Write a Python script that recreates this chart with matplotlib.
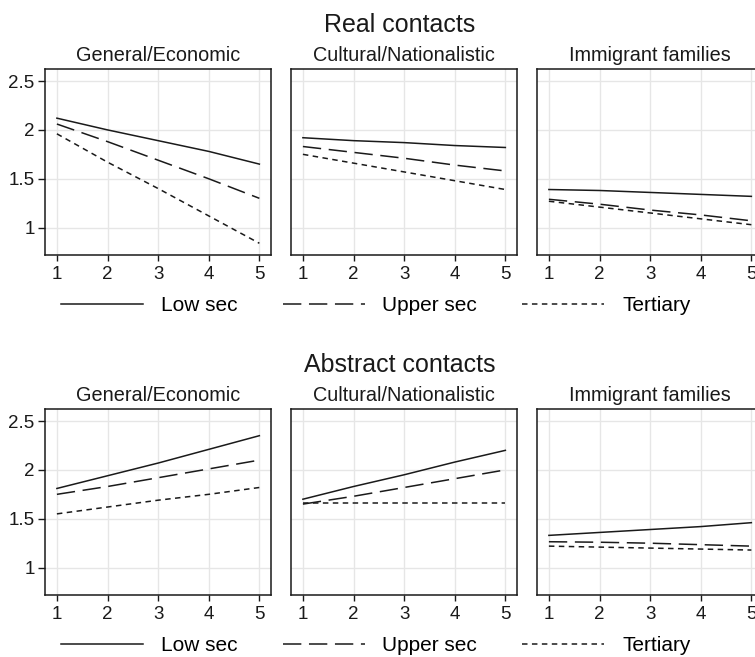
import matplotlib
matplotlib.use("Agg")
import matplotlib.pyplot as plt

plt.rcParams['font.family'] = ['Liberation Sans', 'DejaVu Sans']

x = [1, 2, 3, 4, 5]
panels = ['General/Economic', 'Cultural/Nationalistic', 'Immigrant families']
levels = ['Low sec', 'Upper sec', 'Tertiary']

# Real contacts
real_gen_low = [2.12, 2.00, 1.89, 1.78, 1.65]
real_gen_upper = [2.06, 1.88, 1.69, 1.50, 1.30]
real_gen_tert = [1.96, 1.67, 1.40, 1.12, 0.84]
real_cult_low = [1.92, 1.89, 1.87, 1.84, 1.82]
real_cult_upper = [1.83, 1.77, 1.71, 1.64, 1.58]
real_cult_tert = [1.75, 1.66, 1.57, 1.48, 1.39]
real_imm_low = [1.39, 1.38, 1.36, 1.34, 1.32]
real_imm_upper = [1.29, 1.24, 1.18, 1.13, 1.07]
real_imm_tert = [1.27, 1.21, 1.15, 1.09, 1.03]

# Abstract contacts
abs_gen_low = [1.81, 1.94, 2.07, 2.21, 2.35]
abs_gen_upper = [1.75, 1.83, 1.92, 2.01, 2.10]
abs_gen_tert = [1.55, 1.62, 1.69, 1.75, 1.82]
abs_cult_low = [1.70, 1.83, 1.95, 2.08, 2.20]
abs_cult_upper = [1.65, 1.73, 1.82, 1.91, 2.00]
abs_cult_tert = [1.66, 1.66, 1.66, 1.66, 1.66]
abs_imm_low = [1.33, 1.36, 1.39, 1.42, 1.46]
abs_imm_upper = [1.265, 1.26, 1.25, 1.235, 1.22]
abs_imm_tert = [1.22, 1.21, 1.20, 1.19, 1.18]

rows = [
    ('Real contacts', [
        [real_gen_low, real_gen_upper, real_gen_tert],
        [real_cult_low, real_cult_upper, real_cult_tert],
        [real_imm_low, real_imm_upper, real_imm_tert]]),
    ('Abstract contacts', [
        [abs_gen_low, abs_gen_upper, abs_gen_tert],
        [abs_cult_low, abs_cult_upper, abs_cult_tert],
        [abs_imm_low, abs_imm_upper, abs_imm_tert]]),
]

line_color = '#1a1a1a'
dash_styles = ['-', (0, (12, 5)), (0, (3.6, 2.9))]

W, H = 755, 657
fig = plt.figure(figsize=(W / 100, H / 100), dpi=100)
fig.patch.set_facecolor('white')

lefts = [45, 291, 537]
tops = [69.3, 409.3]
ax_w, ax_h = 226, 185.7

for r, (row_title, row_data) in enumerate(rows):
    top = tops[r]
    fig.text(400 / W, 1 - (top - 37.6) / H, row_title, ha='center',
             va='baseline', fontsize=18, color='#1a1a1a')
    handles = []
    for c in range(3):
        ax = fig.add_axes([lefts[c] / W, 1 - (top + ax_h) / H, ax_w / W, ax_h / H])
        for k in range(3):
            ln, = ax.plot(x, row_data[c][k], color=line_color, lw=1.1,
                          linestyle=dash_styles[k], label=levels[k])
            handles.append(ln)
        ax.set_xlim(0.765, 5.23)
        ax.set_ylim(0.72, 2.62)
        ax.set_xticks(x)
        ax.set_yticks([1, 1.5, 2, 2.5])
        ax.set_yticklabels(['1', '1.5', '2', '2.5'])
        ax.grid(True, color='#e6e6e6', lw=1.0)
        ax.set_axisbelow(True)
        for sp in ax.spines.values():
            sp.set_color('#1a1a1a')
            sp.set_linewidth(1.1)
        ax.tick_params(axis='x', direction='out', length=4.5, width=1.0,
                       pad=3.5, labelsize=13.5, colors='#1a1a1a')
        if c == 0:
            ax.tick_params(axis='y', direction='out', length=5, width=1.0,
                           pad=2.5, labelsize=13.5, colors='#1a1a1a')
        else:
            ax.tick_params(axis='y', left=False, labelleft=False)
        ax.set_title(panels[c], fontsize=14.3, pad=6.2, color='#1a1a1a')

    fig.legend(handles[:3], levels, loc='center left',
               bbox_to_anchor=(61 / W, 1 - (top + 236) / H), ncol=3,
               frameon=False, fontsize=15, handlelength=3.94,
               handletextpad=0.86, columnspacing=2.16, borderpad=0,
               borderaxespad=0)

fig.savefig('out.png', dpi=100, facecolor='white')
